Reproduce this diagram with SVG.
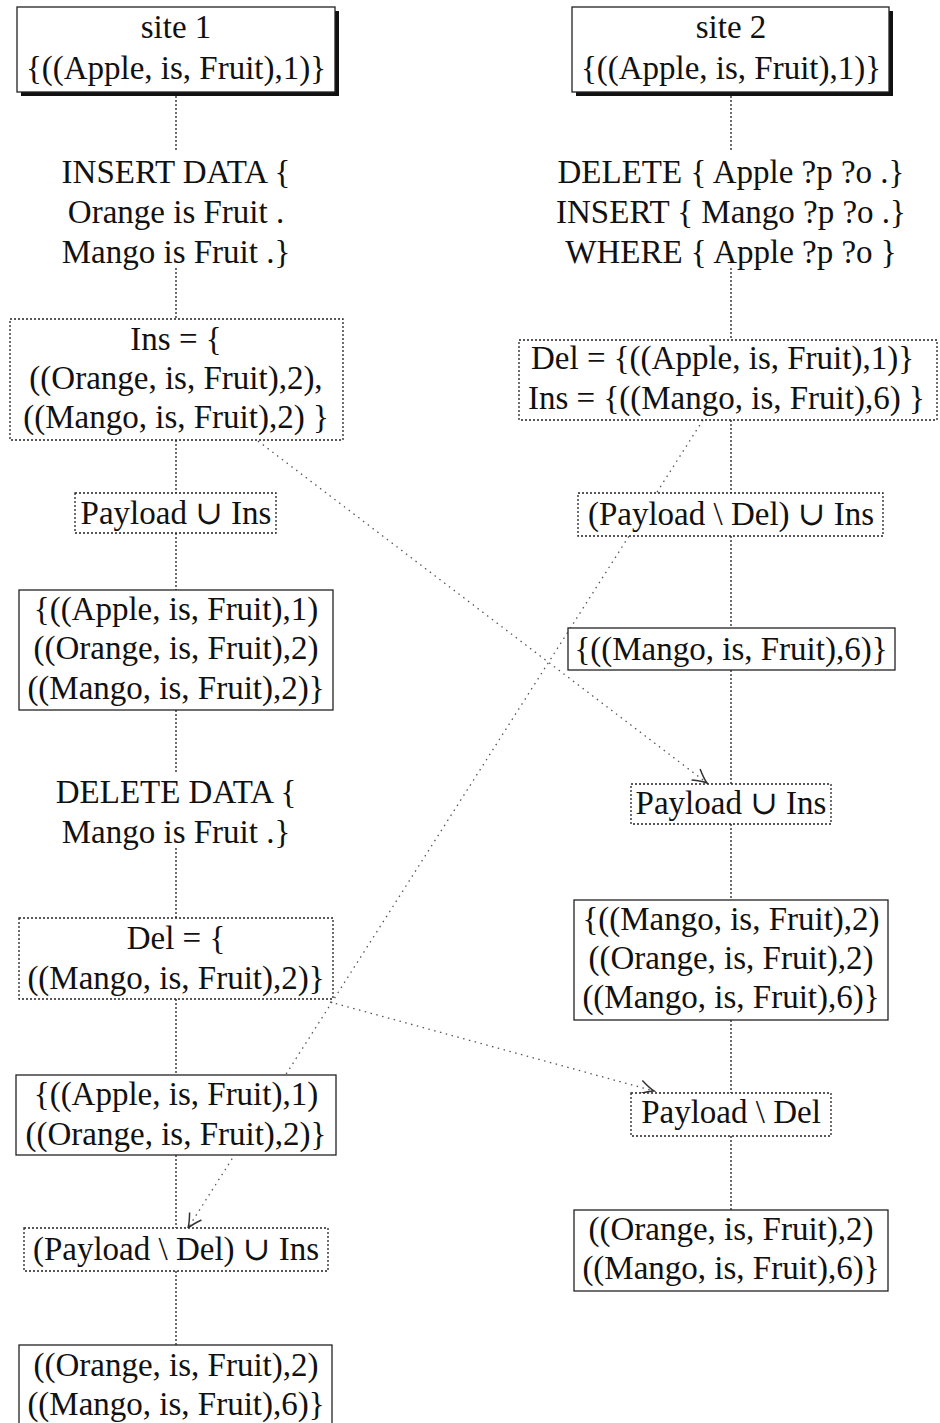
<svg xmlns="http://www.w3.org/2000/svg" width="940" height="1423" viewBox="0 0 940 1423">
  <style>
    text { font-family: "Liberation Serif", "DejaVu Serif", serif; font-size: 33px; fill: #111; text-anchor: middle; }
    text.l { text-anchor: start; }
    .solid { fill: #fff; stroke: #222; stroke-width: 1.3; }
    .shadow { fill: #111; }
    .dot { fill: #fff; stroke: #222; stroke-width: 1.3; stroke-dasharray: 2 2; }
    .link { fill: none; stroke: #222; stroke-width: 1.3; stroke-dasharray: 2 2; }
    .cross { fill: none; stroke: #555; stroke-width: 1.3; stroke-dasharray: 1.5 4.5; }
  </style>
  <defs>
    <marker id="to" viewBox="-16 -9 18 18" refX="0" refY="0" markerWidth="18" markerHeight="18" markerUnits="userSpaceOnUse" orient="auto">
      <path d="M-14,-7 Q-5,-1.5 0,0 Q-5,1.5 -14,7" fill="none" stroke="#333" stroke-width="1.5"/>
    </marker>
  </defs>
  <rect width="940" height="1423" fill="#fff"/>

  <!-- vertical dotted links along each column -->
  <g id="connectors">
    <path class="link" d="M176,92V152 M176,268V319 M176,440V493 M176,533V590 M176,710V772 M176,848V918 M176,999V1075 M176,1155V1228 M176,1271V1345"/>
    <path class="link" d="M731,92V152 M731,268V340 M731,420V493 M731,536V628 M731,670V784 M731,824V900 M731,1020V1093 M731,1136V1210"/>
    <path class="cross" d="M258,441L707,783" marker-end="url(#to)"/>
    <path class="cross" d="M703,420L188,1228" marker-end="url(#to)"/>
    <path class="cross" d="M330,1002L654,1091" marker-end="url(#to)"/>
  </g>

  <!-- site 1 column -->
  <g id="site1">
    <rect class="shadow" x="21" y="11" width="318" height="85"/>
    <rect class="solid" x="17" y="7" width="318" height="85"/>
    <text x="176" y="38">site 1</text>
    <text x="176" y="79">{((Apple, is, Fruit),1)}</text>
  </g>
  <g id="s1-insert-query">
    <text x="176" y="183">INSERT DATA {</text>
    <text x="176" y="223">Orange is Fruit .</text>
    <text x="176" y="263">Mango is Fruit .}</text>
  </g>
  <g id="s1-ins">
    <rect class="dot" x="10" y="319" width="333" height="121"/>
    <text x="176" y="350">Ins = {</text>
    <text x="176" y="389">((Orange, is, Fruit),2),</text>
    <text x="176" y="428">((Mango, is, Fruit),2) }</text>
  </g>
  <g id="s1-union">
    <rect class="dot" x="75" y="493" width="201" height="40"/>
    <text x="176" y="524">Payload ∪ Ins</text>
  </g>
  <g id="s1-state2">
    <rect class="solid" x="19" y="590" width="314" height="120"/>
    <text x="176" y="620">{((Apple, is, Fruit),1)</text>
    <text x="176" y="659">((Orange, is, Fruit),2)</text>
    <text x="176" y="699">((Mango, is, Fruit),2)}</text>
  </g>
  <g id="s1-delete-query">
    <text x="176" y="803">DELETE DATA {</text>
    <text x="176" y="843">Mango is Fruit .}</text>
  </g>
  <g id="s1-del">
    <rect class="dot" x="19" y="918" width="314" height="81"/>
    <text x="176" y="949">Del = {</text>
    <text x="176" y="989">((Mango, is, Fruit),2)}</text>
  </g>
  <g id="s1-state3">
    <rect class="solid" x="16" y="1075" width="320" height="80"/>
    <text x="176" y="1105">{((Apple, is, Fruit),1)</text>
    <text x="176" y="1145">((Orange, is, Fruit),2)}</text>
  </g>
  <g id="s1-merge">
    <rect class="dot" x="24" y="1228" width="304" height="43"/>
    <text x="176" y="1260">(Payload \ Del) ∪ Ins</text>
  </g>
  <g id="s1-final">
    <rect class="solid" x="19" y="1345" width="313" height="85"/>
    <text x="176" y="1376">((Orange, is, Fruit),2)</text>
    <text x="176" y="1415">((Mango, is, Fruit),6)}</text>
  </g>

  <!-- site 2 column -->
  <g id="site2">
    <rect class="shadow" x="576" y="11" width="317" height="85"/>
    <rect class="solid" x="572" y="7" width="317" height="85"/>
    <text x="731" y="38">site 2</text>
    <text x="731" y="79">{((Apple, is, Fruit),1)}</text>
  </g>
  <g id="s2-update-query">
    <text x="731" y="183">DELETE { Apple ?p ?o .}</text>
    <text x="731" y="223">INSERT { Mango ?p ?o .}</text>
    <text x="731" y="263">WHERE { Apple ?p ?o }</text>
  </g>
  <g id="s2-delins">
    <rect class="dot" x="519" y="340" width="418" height="80"/>
    <text class="l" x="531" y="369">Del = {((Apple, is, Fruit),1)}</text>
    <text class="l" x="528" y="409">Ins = {((Mango, is, Fruit),6) }</text>
  </g>
  <g id="s2-merge">
    <rect class="dot" x="578" y="493" width="305" height="43"/>
    <text x="731" y="525">(Payload \ Del) ∪ Ins</text>
  </g>
  <g id="s2-state2">
    <rect class="solid" x="568" y="628" width="327" height="42"/>
    <text x="731" y="660">{((Mango, is, Fruit),6)}</text>
  </g>
  <g id="s2-union">
    <rect class="dot" x="631" y="784" width="200" height="40"/>
    <text x="731" y="814">Payload ∪ Ins</text>
  </g>
  <g id="s2-state3">
    <rect class="solid" x="574" y="900" width="314" height="120"/>
    <text x="731" y="930">{((Mango, is, Fruit),2)</text>
    <text x="731" y="969">((Orange, is, Fruit),2)</text>
    <text x="731" y="1008">((Mango, is, Fruit),6)}</text>
  </g>
  <g id="s2-diff">
    <rect class="dot" x="631" y="1093" width="200" height="43"/>
    <text x="731" y="1123">Payload \ Del</text>
  </g>
  <g id="s2-final">
    <rect class="solid" x="574" y="1210" width="314" height="81"/>
    <text x="731" y="1240">((Orange, is, Fruit),2)</text>
    <text x="731" y="1279">((Mango, is, Fruit),6)}</text>
  </g>
</svg>
